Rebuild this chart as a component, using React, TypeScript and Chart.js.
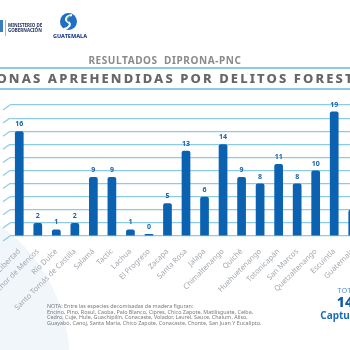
import React, { useEffect, useRef } from "react";
import { Chart, registerables } from "chart.js";

Chart.register(...registerables);

const categories = [
  "La Libertad",
  "Melchor de Mencos",
  "Río Dulce",
  "Santo Tomás de Castilla",
  "Salamá",
  "Tactic",
  "Lachua",
  "El Progreso",
  "Zacapa",
  "Santa Rosa",
  "Jalapa",
  "Chimaltenango",
  "Quiché",
  "Huehuetenango",
  "Totonicapán",
  "San Marcos",
  "Quetzaltenango",
  "Escuintla",
  "Guatemala",
];
const aprehendidos = [16, 2, 1, 2, 9, 9, 1, 0, 5, 13, 6, 14, 9, 8, 11, 8, 10, 19, 4];
const yTicks = [0, 2, 4, 6, 8, 10, 12, 14, 16, 18, 20];
const totalCapturados = "147";
const titleText = "PERSONAS APREHENDIDAS POR DELITOS FORESTALES";
const subtitleText = "RESULTADOS  DIPRONA-PNC";
const noteLines = [
  "NOTA: Entre las especies decomisadas de madera figuran:",
  "Encino, Pino, Rosul, Caoba, Palo Blanco, Cipres, Chico Zapote, Matilisguate, Ceiba,",
  "Cedro, Cuje, Hule, Guachipilín, Conacaste, Volador, Laurel, Sauce, Chaium, Aliso,",
  "Guayabo, Canoj, Santa María, Chico Zapote, Conacaste, Chonte, San Juan Y Eucalipto.",
];

const BAR = "#0a62b0";
const GRID = "#8ccbe6";

const valueLabels = {
  id: "valueLabels",
  afterDatasetsDraw(chart: any) {
    const ctx = chart.ctx;
    const meta = chart.getDatasetMeta(0);
    ctx.save();
    ctx.font = "bold 7px 'Noto Sans'";
    ctx.fillStyle = "#1a62ad";
    ctx.textAlign = "center";
    ctx.textBaseline = "alphabetic";
    meta.data.forEach((bar: any, i: number) => {
      ctx.fillText(String(aprehendidos[i]), bar.x, bar.y - 5);
    });
    ctx.restore();
  },
};

const gridStubs = {
  id: "gridStubs",
  beforeDatasetsDraw(chart: any) {
    const ctx = chart.ctx;
    const y = chart.scales.y;
    const left = chart.chartArea.left;
    ctx.save();
    ctx.strokeStyle = GRID;
    ctx.lineWidth = 1.2;
    yTicks.forEach((v) => {
      const py = y.getPixelForValue(v);
      ctx.beginPath();
      ctx.moveTo(left - 7, py + 5);
      ctx.lineTo(left, py);
      ctx.stroke();
    });
    ctx.restore();
  },
};

function BarChart() {
  const ref = useRef<HTMLCanvasElement | null>(null);
  useEffect(() => {
    if (!ref.current) return;
    const chart = new Chart(ref.current, {
      type: "bar",
      data: {
        labels: categories,
        datasets: [
          {
            data: aprehendidos,
            backgroundColor: BAR,
            borderRadius: 2,
            categoryPercentage: 1,
            barPercentage: 0.47,
            minBarLength: 2,
          },
        ],
      },
      options: {
        animation: false,
        responsive: false,
        maintainAspectRatio: false,
        layout: { padding: { left: 70, right: 18, top: 105, bottom: 0 } },
        plugins: { legend: { display: false }, tooltip: { enabled: false } },
        scales: {
          x: {
            grid: { display: false },
            border: { display: false },
            ticks: {
              autoSkip: false,
              minRotation: 45,
              maxRotation: 45,
              padding: 3,
              color: "#a3a8ad",
              font: { family: "'Noto Sans'", size: 7.5 },
            },
            afterFit: (s: any) => {
              s.height = 114;
            },
          },
          y: {
            min: 0,
            max: 20,
            ticks: { display: false, stepSize: 2 },
            grid: { color: GRID, lineWidth: 1.2, drawTicks: false },
            border: { display: false },
            afterFit: (s: any) => {
              s.width = 0;
            },
          },
        },
      },
      plugins: [gridStubs, valueLabels],
    });
    return () => chart.destroy();
  }, []);
  return (
    <canvas
      ref={ref}
      width={440}
      height={350}
      style={{ position: "absolute", left: -60, top: 0, width: 440, height: 350 }}
    />
  );
}

export default function App() {
  const font = "'Noto Sans', sans-serif";
  return (
    <div
      style={{
        position: "fixed",
        left: 0,
        top: 0,
        width: 350,
        height: 350,
        overflow: "hidden",
        background: "#ffffff",
        fontFamily: font,
      }}
    >
      {/* pale background shape */}
      <div
        style={{
          position: "absolute",
          left: -230,
          top: 200,
          width: 300,
          height: 330,
          borderRadius: "50%",
          background: "#f1f6fb",
        }}
      />
      <BarChart />
      {/* logos */}
      <div style={{ position: "absolute", left: 0, top: 20, width: 3, height: 12, background: "#3b7bc0" }} />
      <div style={{ position: "absolute", left: 5, top: 20, width: 1, height: 16, background: "#b0b8c4" }} />
      <div
        style={{
          position: "absolute",
          left: 8,
          top: 23,
          fontSize: 4.5,
          lineHeight: "5px",
          fontWeight: 700,
          color: "#22335f",
          whiteSpace: "nowrap",
        }}
      >
        MINISTERIO DE
        <br />
        GOBERNACIÓN
      </div>
      <svg style={{ position: "absolute", left: 58, top: 12 }} width={22} height={20}>
        <circle cx={10.5} cy={9.5} r={8.5} fill="#1f6fc5" />
        <path d="M14 3 C 8 4, 6 8, 10 10 C 14 12, 11 16, 6 17" stroke="#ffffff" strokeWidth={2} fill="none" />
        <path d="M12 4 C 9 6, 8 8, 11 10" stroke="#4fb848" strokeWidth={1.2} fill="none" />
      </svg>
      <div
        style={{
          position: "absolute",
          left: 53,
          top: 33,
          fontSize: 5.5,
          lineHeight: "6px",
          fontWeight: 800,
          color: "#1d3f8a",
          whiteSpace: "nowrap",
        }}
      >
        GUATEMALA
      </div>
      {/* subtitle */}
      <div
        style={{
          position: "absolute",
          left: 165,
          top: 54,
          transform: "translateX(-50%)",
          fontSize: 10,
          lineHeight: "12px",
          fontWeight: 700,
          letterSpacing: 0.6,
          color: "#8a8a8a",
          whiteSpace: "pre",
        }}
      >
        {subtitleText}
      </div>
      {/* title with rules */}
      <div style={{ position: "absolute", left: 0, top: 67, width: 350, height: 2, background: GRID }} />
      <div style={{ position: "absolute", left: 0, top: 88, width: 350, height: 2, background: GRID }} />
      <div
        style={{
          position: "absolute",
          left: 175,
          top: 71,
          transform: "translateX(-50%)",
          fontSize: 13,
          lineHeight: "15px",
          fontWeight: 800,
          letterSpacing: 2.1,
          color: "#666666",
          whiteSpace: "nowrap",
        }}
      >
        {titleText}
      </div>
      {/* note */}
      <div
        style={{
          position: "absolute",
          left: 47,
          top: 304,
          fontSize: 5.4,
          lineHeight: "5.6px",
          color: "#7a7a7a",
          whiteSpace: "nowrap",
        }}
      >
        {noteLines.map((l, i) => (
          <div key={i}>{l}</div>
        ))}
      </div>
      {/* total */}
      <div
        style={{
          position: "absolute",
          left: 349,
          top: 286,
          transform: "translateX(-50%)",
          textAlign: "center",
          whiteSpace: "nowrap",
        }}
      >
        <div style={{ fontSize: 7, lineHeight: "9px", color: "#4a90c8", letterSpacing: 0.5 }}>TOTAL</div>
        <div style={{ fontSize: 14, lineHeight: "14px", fontWeight: 800, color: "#0a5aa8" }}>{totalCapturados}</div>
        <div style={{ fontSize: 10, lineHeight: "13px", fontWeight: 700, color: "#1a6fc0" }}>Capturados</div>
      </div>
    </div>
  );
}
